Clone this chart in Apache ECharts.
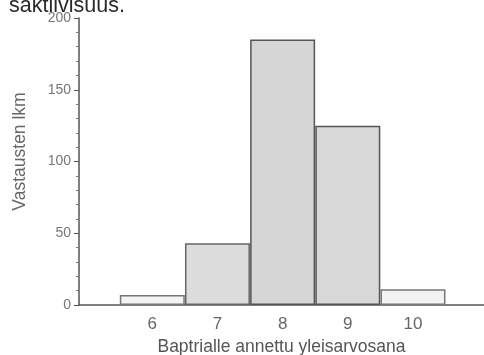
<!DOCTYPE html>
<html><head><meta charset="utf-8">
<script src="https://cdn.jsdelivr.net/npm/echarts@6/dist/echarts.min.js"></script>
<style>html,body{margin:0;padding:0;background:#fff}#c{width:484px;height:355px}</style>
</head><body><div id="c"></div>
<script>
const grades = [6, 7, 8, 9, 10];
const counts = [7, 43, 185, 125, 11];
const yTicks = [0, 50, 100, 150, 200];
const titleText = 'saktiivisuus.';
const xName = 'Baptrialle annettu yleisarvosana';
const yName = 'Vastausten lkm';

const fills = ['#f3f3f3', '#dcdcdc', '#d6d6d6', '#d8d8d8', '#f3f3f3'];
const borders = ['#777', '#666', '#555', '#555', '#777'];

const chart = echarts.init(document.getElementById('c'), null, {renderer: 'canvas'});
chart.setOption({
  animation: false,
  backgroundColor: '#fff',
  textStyle: {fontFamily: 'Liberation Sans, Arial, sans-serif'},
  graphic: [{
    type: 'text', left: 9, top: -5,
    style: {text: titleText, fontSize: 21.5, fill: '#2a2a2a', fontFamily: 'Liberation Sans, Arial, sans-serif'}
  }],
  grid: {left: 79, right: 0, top: 18, bottom: 50, containLabel: false, outerBoundsMode: 'none'},
  xAxis: {
    type: 'value', min: 4.875, max: 11.09,
    name: xName, nameLocation: 'middle', nameGap: 32,
    nameTextStyle: {fontSize: 17.5, color: '#555'},
    axisLine: {show: true, onZero: false, lineStyle: {color: '#555', width: 1.5}},
    axisTick: {show: false},
    splitLine: {show: false},
    axisLabel: {
      fontSize: 17, color: '#666', margin: 11,
      customValues: grades,
      formatter: v => String(v)
    }
  },
  yAxis: {
    type: 'value', min: 0, max: 200, interval: 50,
    name: yName, nameLocation: 'middle', nameGap: 50,
    nameTextStyle: {fontSize: 17.5, color: '#666', padding: [0, 0, 0, 20]},
    axisLine: {show: true, lineStyle: {color: '#555', width: 1.5}},
    axisTick: {show: true, length: 5, lineStyle: {color: '#555'}},
    minorTick: {show: true, splitNumber: 5, length: 3, lineStyle: {color: '#777'}},
    splitLine: {show: false},
    axisLabel: {fontSize: 14, color: '#777', margin: 8,
      formatter: v => yTicks.includes(v) ? String(v) : ''}
  },
  series: [{
    type: 'bar',
    barWidth: 65,
    data: grades.map((g, i) => ({
      value: [g, counts[i]],
      itemStyle: {color: fills[i], borderColor: borders[i], borderWidth: 1.5}
    }))
  }]
});
</script></body></html>
